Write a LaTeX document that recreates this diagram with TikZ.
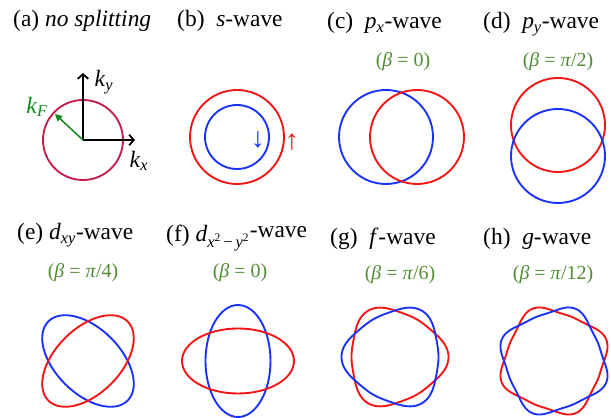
\documentclass[tikz,border=0pt]{standalone}
\usepackage{fontspec}
\setmainfont{Liberation Serif}
\usetikzlibrary{arrows.meta}
\definecolor{upred}{RGB}{245,20,20}
\definecolor{dnblue}{RGB}{25,50,250}
\definecolor{betagreen}{RGB}{80,140,50}
\definecolor{kfgreen}{RGB}{20,135,30}
\definecolor{fsmix}{RGB}{195,30,75}
\tikzset{
  title/.style={anchor=base west,inner sep=0pt,font=\fontsize{20}{24}\selectfont},
  beta/.style={inner sep=0pt,text=betagreen,font=\fontsize{17}{20}\selectfont},
  klabel/.style={inner sep=0pt,font=\fontsize{20}{24}\selectfont},
  spin/.style={inner sep=0pt,font=\fontsize{24}{26}\selectfont},
  fs/.style={line width=1.6pt},
  up/.style={fs,upred},
  dn/.style={fs,dnblue},
  axis/.style={-{Straight Barb[length=4pt,width=9pt]},line width=1.5pt}
}

\begin{document}
\begin{tikzpicture}[x=0.3mm,y=0.3mm]
  \useasboundingbox (0,0) rectangle (611,418);

  % titles
  \node[title] (ta) at (13,391)  {(a) \textit{no splitting}};
  \node[title] (tb) at (177,391) {(b)\ \ \textit{s}-wave};
  \node[title] (tc) at (327,389) {(c)\ \ \textit{p}\textsubscript{\textit{x}}-wave};
  \node[title] (td) at (483,389) {(d)\ \ \textit{p}\textsubscript{\textit{y}}-wave};
  \node[title] (te) at (17,178)  {(e) \textit{d}\textsubscript{\textit{xy}}-wave};
  \node[title] (tf) at (166,176) {(f) \textit{d}\textsubscript{\textit{x}\textsuperscript{2}\,−\,\textit{y}\textsuperscript{2}}\raisebox{4pt}{-wave}};
  \node[title] (tg) at (330,173) {(g)\ \ \textit{f}-wave};
  \node[title] (th) at (483,173) {(h)\ \ \textit{g}-wave};

  % beta labels
  \node[beta] (bc) at (403,356) {(\textit{β}\ =\ 0)};
  \node[beta] (bd) at (558,356) {(\textit{β}\ =\ \textit{π}/2)};
  \node[beta] (be) at (83,145)  {(\textit{β}\ =\ \textit{π}/4)};
  \node[beta] (bf) at (240,145) {(\textit{β}\ =\ 0)};
  \node[beta] (bg) at (400,143) {(\textit{β}\ =\ \textit{π}/6)};
  \node[beta] (bh) at (553,143) {(\textit{β}\ =\ \textit{π}/12)};

  % centres
  \coordinate (oA) at (83,278);
  \coordinate (oB) at (237,281);
  \coordinate (oC) at (401.5,281);
  \coordinate (oD) at (558,277.5);
  \coordinate (oE) at (88,57);
  \coordinate (oF) at (238,57);
  \coordinate (oG) at (395,61);
  \coordinate (oH) at (554,57);

  % (a)
  \draw[fs,fsmix] (oA) circle[radius=40];
  \coordinate (kxEnd) at (135,278);
  \coordinate (kyEnd) at (83,345);
  \coordinate (kfEnd) at (55,304);
  \draw[axis] (oA) -- (kxEnd);
  \draw[axis] (oA) -- (kyEnd);
  \draw[-{Triangle[length=6pt,width=6pt]},line width=1.3pt,kfgreen] (oA) -- (kfEnd);
  \node[klabel] (kx) at (139,257) {\textit{k}\textsubscript{\textit{x}}};
  \node[klabel] (ky) at (104,336) {\textit{k}\textsubscript{\textit{y}}};
  \node[klabel,text=kfgreen] (kf) at (37,311) {\textit{k}\textsubscript{\textit{F}}};

  % (b)
  \draw[up] (oB) circle[radius=47];
  \draw[dn] (oB) circle[radius=32];
  \node[spin,text=dnblue] (sdn) at (258,278) {↓};
  \node[spin,text=upred]  (sup) at (292,276) {↑};

  % (c)
  \draw[dn] ([xshift=-15.5*0.3mm]oC) circle[radius=47];
  \draw[up] ([xshift=15.5*0.3mm]oC) circle[radius=47];

  % (d)
  \draw[up] ([yshift=15.5*0.3mm]oD) circle[radius=47];
  \draw[dn] ([yshift=-15.5*0.3mm]oD) circle[radius=47];

  % (e)
  \draw[dn,rotate=-45] (oE) ellipse[x radius=56,y radius=32.5];
  \draw[up,rotate=45] (oE) ellipse[x radius=56,y radius=32.5];

  % (f)
  \draw[dn] (oF) ellipse[x radius=32.5,y radius=56];
  \draw[up] (oF) ellipse[x radius=56,y radius=32.5];

  % (g)
  \draw[up,shift={(oG)}] plot[domain=0:360,samples=241,smooth] (\x:{47.5+5*cos(3*\x)+cos(6*\x)}) -- cycle;
  \draw[dn,shift={(oG)}] plot[domain=0:360,samples=241,smooth] (\x:{47.5-5*cos(3*\x)+cos(6*\x)}) -- cycle;

  % (h)
  \draw[up,shift={(oH)}] plot[domain=0:360,samples=241,smooth] (\x:{51+4.5*sin(4*\x)-cos(8*\x)}) -- cycle;
  \draw[dn,shift={(oH)}] plot[domain=0:360,samples=241,smooth] (\x:{51-4.5*sin(4*\x)-cos(8*\x)}) -- cycle;

\end{tikzpicture}
\end{document}
